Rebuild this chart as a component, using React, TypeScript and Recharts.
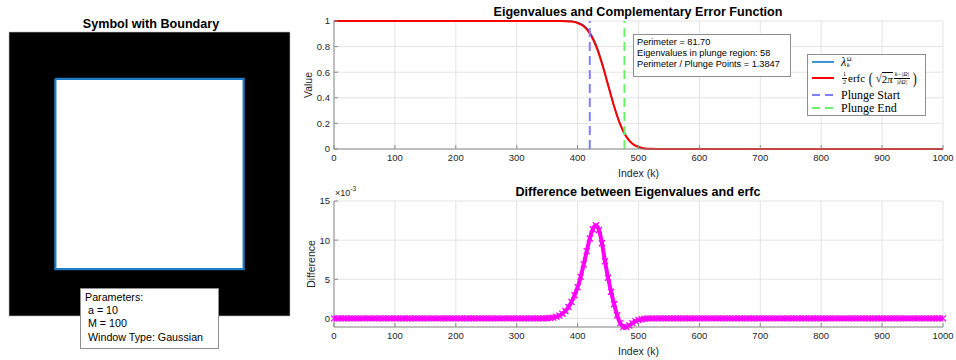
import { ComposedChart, Line, XAxis, YAxis, CartesianGrid, ReferenceLine, ReferenceArea, Legend } from 'recharts';

const SANS = '"Liberation Sans", Arial, Helvetica, sans-serif';
const SERIF = '"Liberation Serif", "DejaVu Serif", "Times New Roman", serif';
const INK = '#262626';
const AXIS = '#8c8c8c';
const GRID = '#e4e4e4';

// left panel: symbol image with its boundary
const SYMBOL_TITLE = 'Symbol with Boundary';
const SYMBOL_RANGE = [0, 100];
const SYMBOL_INNER = [16.5, 83.5];
const BOUNDARY_X = [16.5, 83.5, 83.5, 16.5, 16.5];
const BOUNDARY_Y = [83.5, 83.5, 16.5, 16.5, 83.5];
const PARAM_LINES = ['Parameters:', ' a = 10', ' M = 100', ' Window Type: Gaussian'];

// top panel: eigenvalues vs erfc
const TOP_TITLE = 'Eigenvalues and Complementary Error Function';
const CURVE_K = [0, 100, 200, 300, 350, 360, 370, 380, 390, 400, 410, 420, 430, 440, 450, 460, 470, 480, 490, 500, 510, 520, 530, 540, 550, 600, 700, 800, 900, 1000];
const ERFC_VALUES = [1, 1, 1, 1, 1, 0.99995, 0.9997, 0.9988, 0.9955, 0.9845, 0.9587, 0.9034, 0.8075, 0.6679, 0.5, 0.3321, 0.1925, 0.0966, 0.0413, 0.0155, 0.0045, 0.0012, 0.0003, 0.0001, 0, 0, 0, 0, 0, 0];
const EIGEN_VALUES = [1, 1, 1, 1, 1, 1, 1, 0.9998, 0.9976, 0.9885, 0.9656, 0.9136, 0.8194, 0.6775, 0.5052, 0.3339, 0.1919, 0.0955, 0.0407, 0.0153, 0.0045, 0.0012, 0.0003, 0.0001, 0, 0, 0, 0, 0, 0];
const PLUNGE_START = 420;
const PLUNGE_END = 477;
const STATS_LINES = ['Perimeter = 81.70', 'Eigenvalues in plunge region: 58', 'Perimeter / Plunge Points = 1.3847'];
const X_TICKS = [0, 100, 200, 300, 400, 500, 600, 700, 800, 900, 1000];
const VALUE_TICKS = [0, 0.2, 0.4, 0.6, 0.8, 1];

// bottom panel: difference (x 1e-3), one value every DIFF_STEP indices
const BOTTOM_TITLE = 'Difference between Eigenvalues and erfc';
const DIFF_STEP = 5;
const DIFF_VALUES = [
  0, 0, 0, 0, 0, 0, 0, 0, 0, 0,
  0, 0, 0, 0, 0, 0, 0, 0, 0, 0,
  0, 0, 0, 0, 0, 0, 0, 0, 0, 0,
  0, 0, 0, 0, 0, 0, 0, 0, 0, 0,
  0, 0, 0, 0, 0, 0, 0, 0, 0, 0,
  0, 0, 0, 0, 0, 0, 0, 0, 0, 0,
  0, 0, 0, 0, 0, 0, 0, 0, 0, 0,
  0.02, 0.05, 0.1, 0.2, 0.35, 0.6, 0.95, 1.45, 2.1, 2.95,
  4.0, 5.3, 6.9, 8.6, 10.2, 11.4, 11.9, 11.3, 9.6, 7.3,
  5.2, 3.4, 1.8, 0.4, -0.6, -1.1, -1.1, -0.9, -0.6, -0.35,
  -0.2, -0.1, -0.05, -0.02, 0, 0, 0, 0, 0, 0,
  0, 0, 0, 0, 0, 0, 0, 0, 0, 0,
  0, 0, 0, 0, 0, 0, 0, 0, 0, 0,
  0, 0, 0, 0, 0, 0, 0, 0, 0, 0,
  0, 0, 0, 0, 0, 0, 0, 0, 0, 0,
  0, 0, 0, 0, 0, 0, 0, 0, 0, 0,
  0, 0, 0, 0, 0, 0, 0, 0, 0, 0,
  0, 0, 0, 0, 0, 0, 0, 0, 0, 0,
  0, 0, 0, 0, 0, 0, 0, 0, 0, 0,
  0, 0, 0, 0, 0, 0, 0, 0, 0, 0,
  0,
];
const DIFF_TICKS = [0, 5, 10, 15];

const tickStyle = { fill: INK, fontSize: 9.5, fontFamily: SANS };
const labelStyle = { fill: INK, fontSize: 10.5, fontFamily: SANS };

function XMark(props: any) {
  const { cx, cy, index } = props;
  if (cx == null || cy == null) return <g key={`x-${index}`} />;
  const s = 3;
  return (
    <path
      key={`x-${index}`}
      d={`M${cx - s},${cy - s}L${cx + s},${cy + s}M${cx - s},${cy + s}L${cx + s},${cy - s}`}
      stroke="#ff00ff"
      strokeWidth={1.3}
      fill="none"
    />
  );
}

function Frac({ num, den, size }: { num: any; den: any; size: number }) {
  return (
    <span style={{ display: 'inline-flex', flexDirection: 'column', alignItems: 'center', fontSize: size, lineHeight: 1.05, verticalAlign: 'middle', margin: '0 1px' }}>
      <span style={{ borderBottom: '0.6px solid #000', padding: '0 1px' }}>{num}</span>
      <span>{den}</span>
    </span>
  );
}

function PlungeLegend() {
  const sample = (color: string, width: number, dashed: boolean) => (
    <svg width={22} height={6} style={{ position: 'absolute', left: 4, top: '50%', marginTop: -3 }}>
      <line x1={0} y1={3} x2={22} y2={3} stroke={color} strokeWidth={width} strokeDasharray={dashed ? '8 5' : undefined} />
    </svg>
  );
  const row = (top: number, h: number, color: string, width: number, dashed: boolean, content: any) => (
    <div style={{ position: 'absolute', left: 0, top, height: h, width: '100%' }}>
      {sample(color, width, dashed)}
      <div style={{ position: 'absolute', left: 33, top: 0, height: h, display: 'flex', alignItems: 'center', fontFamily: SERIF, fontSize: 12, color: '#000', whiteSpace: 'nowrap' }}>
        {content}
      </div>
    </div>
  );
  return (
    <div style={{ position: 'relative', width: 119, height: 62, background: '#fff', border: '1px solid #8f8f8f', boxSizing: 'border-box' }}>
      {row(0, 14, '#0072bd', 1.5, false,
        <span style={{ display: 'inline-flex', alignItems: 'center' }}>
          <span style={{ fontStyle: 'italic' }}>λ</span>
          <span style={{ display: 'inline-flex', flexDirection: 'column', fontSize: 6.5, lineHeight: 1, marginLeft: 0.5 }}>
            <span>Ω</span>
            <span style={{ fontStyle: 'italic' }}>k</span>
          </span>
        </span>)}
      {row(14, 18, '#ff0000', 2, false,
        <span style={{ display: 'inline-flex', alignItems: 'center', fontSize: 11 }}>
          <Frac num="1" den="2" size={6} />
          <span>erfc</span>
          <span style={{ fontSize: 17, lineHeight: 1, margin: '0 2px 0 3px', transform: 'scaleX(0.7)' }}>(</span>
          <span>√</span>
          <span style={{ borderTop: '0.7px solid #000' }}>2<i>π</i></span>
          <Frac num={<i>k−|Ω|</i>} den={<i>|∂Ω|</i>} size={6} />
          <span style={{ fontSize: 17, lineHeight: 1, margin: '0 0 0 1px', transform: 'scaleX(0.7)' }}>)</span>
        </span>)}
      {row(33, 14, '#7f7fff', 2, true, 'Plunge Start')}
      {row(46, 14, '#6af06a', 2, true, 'Plunge End')}
    </div>
  );
}

function Title({ text, x, y }: { text: string; x: number; y: number }) {
  return (
    <div style={{ position: 'absolute', left: x, top: y, transform: 'translate(-50%, -50%)', fontFamily: SANS, fontWeight: 'bold', fontSize: 12.6, color: '#000', whiteSpace: 'nowrap' }}>
      {text}
    </div>
  );
}

function SymbolPanel() {
  const boundary = BOUNDARY_X.map((x, i) => ({ x, y: BOUNDARY_Y[i] }));
  return (
    <ComposedChart width={300} height={360} data={boundary} margin={{ top: 32, right: 10, bottom: 44, left: 9 }}>
      <XAxis dataKey="x" type="number" domain={SYMBOL_RANGE} hide height={0} />
      <YAxis type="number" domain={SYMBOL_RANGE} hide width={0} />
      <ReferenceArea x1={SYMBOL_RANGE[0]} x2={SYMBOL_RANGE[1]} y1={SYMBOL_RANGE[0]} y2={SYMBOL_RANGE[1]} fill="#000" fillOpacity={1} stroke="#bdbdbd" strokeWidth={0.6} />
      <ReferenceArea x1={SYMBOL_INNER[0]} x2={SYMBOL_INNER[1]} y1={SYMBOL_INNER[0]} y2={SYMBOL_INNER[1]} fill="#fff" fillOpacity={1} />
      <Line dataKey="y" type="linear" stroke="#1f7bc4" strokeWidth={2.2} dot={false} isAnimationActive={false} />
    </ComposedChart>
  );
}

function EigenPanel() {
  const data = CURVE_K.map((k, i) => ({ k, erfc: ERFC_VALUES[i], eig: EIGEN_VALUES[i] }));
  return (
    <ComposedChart width={666} height={182} data={data} margin={{ top: 21, right: 13, bottom: 5, left: 14 }}>
      <CartesianGrid stroke={GRID} />
      <XAxis dataKey="k" type="number" domain={[0, 1000]} ticks={X_TICKS} stroke={AXIS} tickSize={-4} tickMargin={9} height={28} tick={tickStyle}
        label={{ value: 'Index (k)', position: 'insideBottom', offset: 0, style: labelStyle }} />
      <XAxis xAxisId="top" orientation="top" type="number" domain={[0, 1000]} ticks={X_TICKS} stroke={AXIS} tickSize={-4} height={0} tickFormatter={() => ''} />
      <YAxis type="number" domain={[0, 1]} ticks={VALUE_TICKS} stroke={AXIS} tickSize={-4} tickMargin={8} width={30} tick={tickStyle}
        label={{ value: 'Value', angle: -90, position: 'insideLeft', offset: 4, style: { ...labelStyle, textAnchor: 'middle' } }} />
      <YAxis yAxisId="right" orientation="right" type="number" domain={[0, 1]} ticks={VALUE_TICKS} stroke={AXIS} tickSize={-4} width={0} tickFormatter={() => ''} />
      <Line dataKey="eig" type="monotone" stroke="#0072bd" strokeWidth={1.5} dot={false} isAnimationActive={false} />
      <Line dataKey="erfc" type="monotone" stroke="#ff0000" strokeWidth={2} dot={false} isAnimationActive={false} />
      <ReferenceLine x={PLUNGE_START} stroke="#7f7fff" strokeWidth={2} strokeDasharray="9 5" />
      <ReferenceLine x={PLUNGE_END} stroke="#6af06a" strokeWidth={2} strokeDasharray="9 5" />
      <Legend layout="horizontal" verticalAlign="middle" align="center" content={() => <PlungeLegend />}
        wrapperStyle={{ position: 'absolute', left: 517, top: 54, width: 119, height: 62 }} />
    </ComposedChart>
  );
}

function DiffPanel() {
  const data = DIFF_VALUES.map((d, i) => ({ k: i * DIFF_STEP, d }));
  return (
    <ComposedChart width={666} height={180} data={data} margin={{ top: 21, right: 13, bottom: 5, left: 14 }}>
      <CartesianGrid stroke={GRID} />
      <XAxis dataKey="k" type="number" domain={[0, 1000]} ticks={X_TICKS} stroke={AXIS} tickSize={-4} tickMargin={9} height={28} tick={tickStyle}
        label={{ value: 'Index (k)', position: 'insideBottom', offset: 0, style: labelStyle }} />
      <XAxis xAxisId="top" orientation="top" type="number" domain={[0, 1000]} ticks={X_TICKS} stroke={AXIS} tickSize={-4} height={0} tickFormatter={() => ''} />
      <YAxis type="number" domain={[-1, 15]} ticks={DIFF_TICKS} stroke={AXIS} tickSize={-4} tickMargin={8} width={30} tick={tickStyle}
        label={{ value: 'Difference', angle: -90, position: 'insideLeft', offset: 7, style: { ...labelStyle, textAnchor: 'middle' } }} />
      <YAxis yAxisId="right" orientation="right" type="number" domain={[-1, 15]} ticks={DIFF_TICKS} stroke={AXIS} tickSize={-4} width={0} tickFormatter={() => ''} />
      <Line dataKey="d" type="monotone" stroke="#ff00ff" strokeWidth={4} dot={XMark} isAnimationActive={false} />
    </ComposedChart>
  );
}

export default function App() {
  return (
    <div style={{ position: 'absolute', left: 0, top: 0, width: 956, height: 360, background: '#fff', overflow: 'hidden', fontFamily: SANS }}>
      <div style={{ position: 'absolute', left: 0, top: 0 }}>
        <SymbolPanel />
      </div>
      <div style={{ position: 'absolute', left: 290, top: 0 }}>
        <EigenPanel />
      </div>
      <div style={{ position: 'absolute', left: 290, top: 180 }}>
        <DiffPanel />
      </div>

      <Title text={SYMBOL_TITLE} x={151} y={24} />
      <Title text={TOP_TITLE} x={638} y={11.5} />
      <Title text={BOTTOM_TITLE} x={638} y={192} />

      <div style={{ position: 'absolute', left: 80, top: 288, width: 139, height: 61, boxSizing: 'border-box', border: '1px solid #8f8f8f', background: '#fff', padding: '2px 0 0 4px', fontSize: 10.7, lineHeight: '13.2px', color: '#000', whiteSpace: 'pre' }}>
        {PARAM_LINES.map((l) => <div key={l}>{l}</div>)}
      </div>

      <div style={{ position: 'absolute', left: 633, top: 34, width: 158, height: 43, boxSizing: 'border-box', border: '1px solid #8f8f8f', background: '#fff', padding: '2px 0 0 3px', fontSize: 9.2, lineHeight: '11.2px', color: '#000', whiteSpace: 'pre' }}>
        {STATS_LINES.map((l) => <div key={l}>{l}</div>)}
      </div>

      <div style={{ position: 'absolute', left: 335, top: 188, fontSize: 9, color: INK, whiteSpace: 'nowrap' }}>
        ×10<sup style={{ fontSize: 6.5, verticalAlign: 'top', position: 'relative', top: -3 }}>-3</sup>
      </div>
    </div>
  );
}
